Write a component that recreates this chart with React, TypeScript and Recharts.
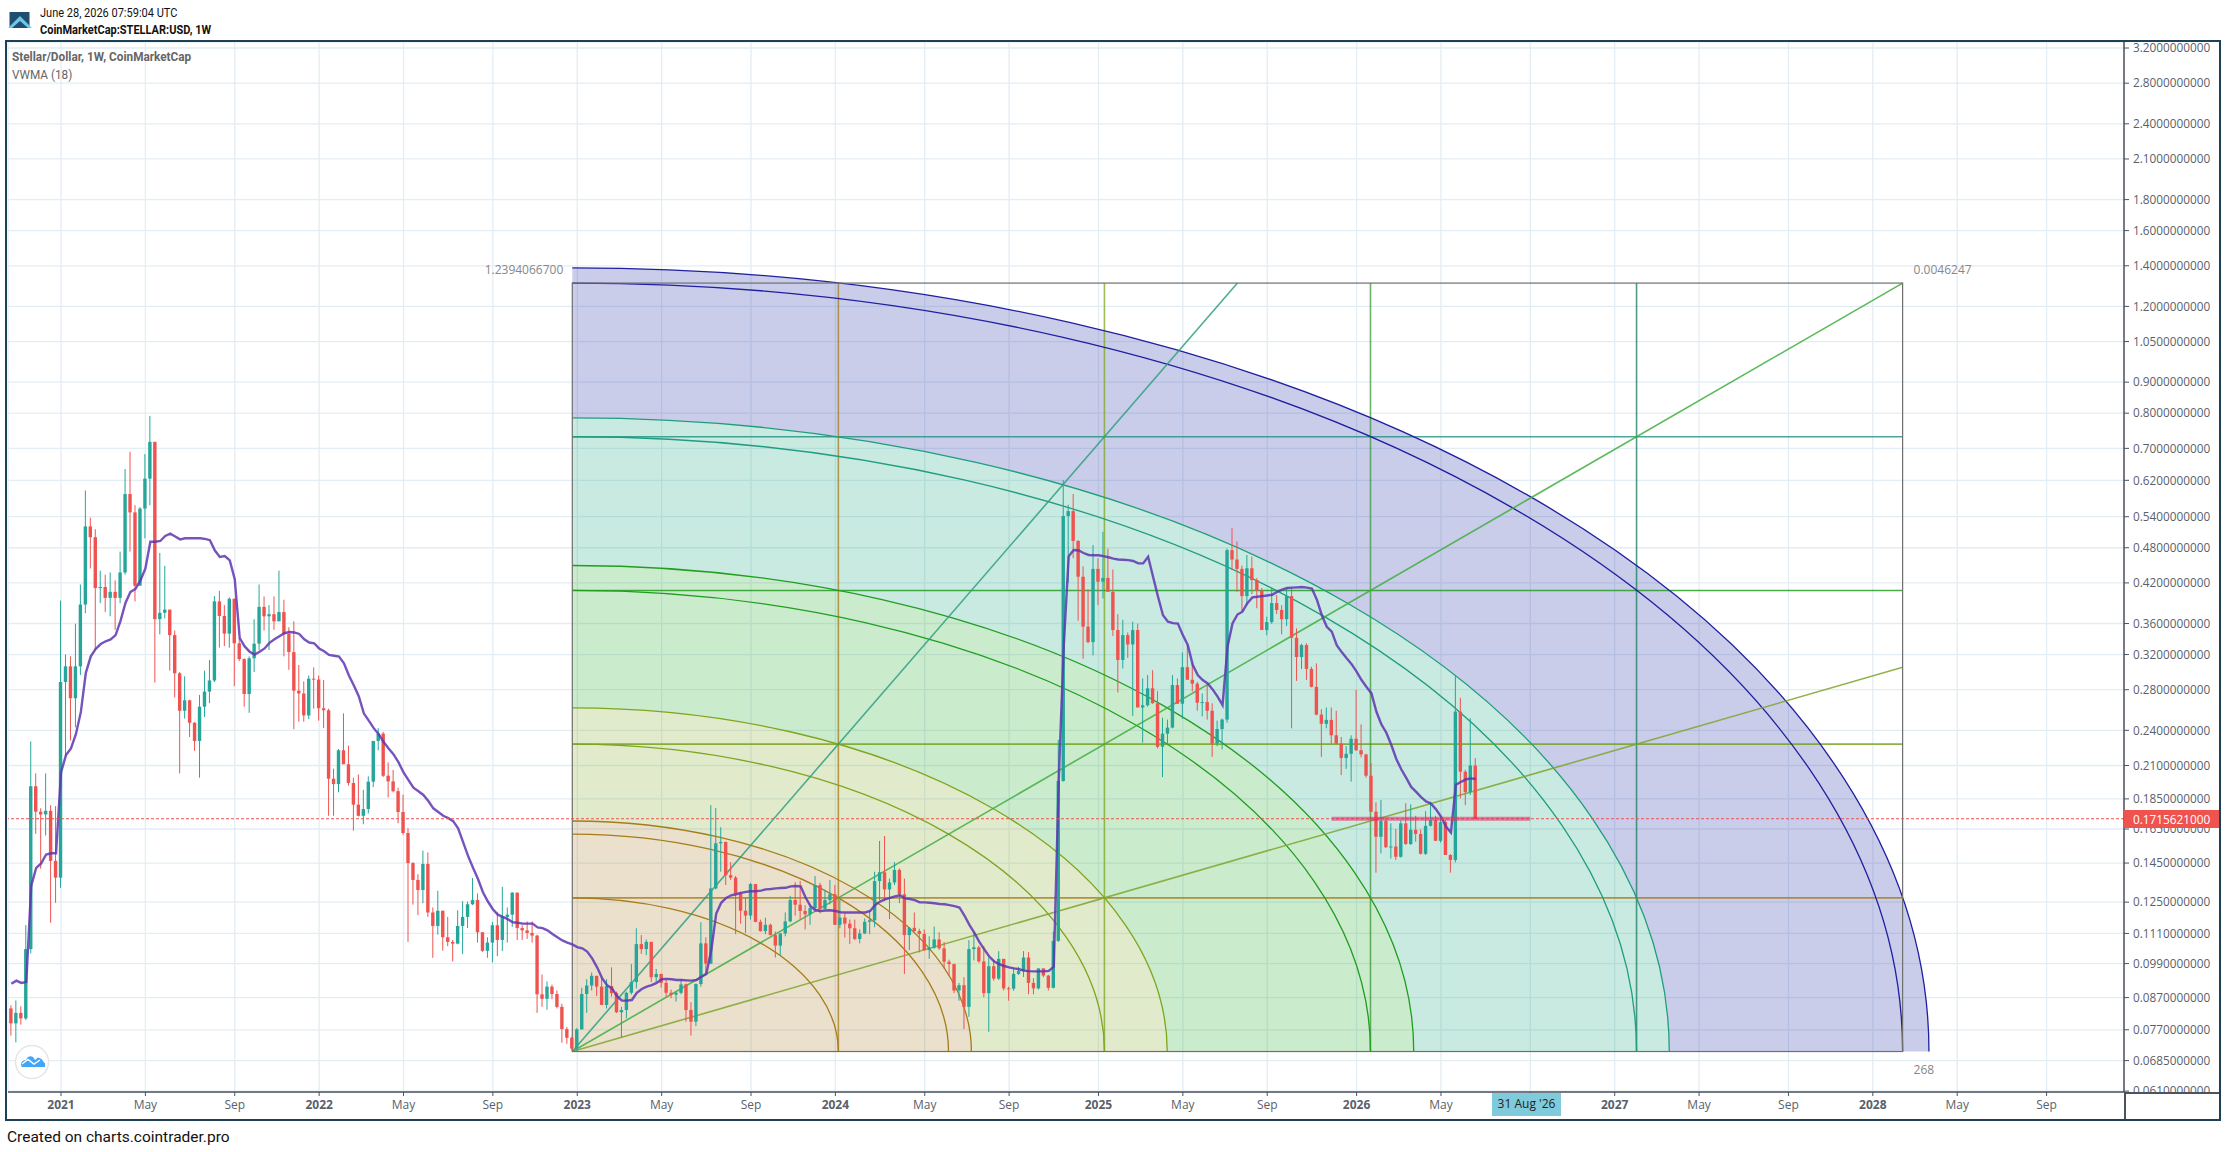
import React from 'react';
import { ComposedChart, Bar, Line, XAxis, YAxis, CartesianGrid, ReferenceArea, ReferenceLine } from 'recharts';

// Weekly bars, numbered from the first bar of 2021 (bar 0). The series starts at bar -10.
const firstBar = -10;
const firstOpen = 0.0835;

const highs = [
  .0845,.0861,.0842,.1146,.2301,.2038,.1785,.2038,.1806,.1800,
  .3928,.3201,.3178,.3598,.4175,.5966,.5380,.5150,.4400,.4333,
  .4370,.4240,.4730,.6470,.6910,.5640,.5600,.6850,.7920,.7175,
  .4705,.4480,.3795,.3505,.2995,.2945,.2695,.2475,.2745,.3010,
  .3135,.3995,.4075,.3860,.3975,.3960,.3405,.3155,.3178,.3660,
  .4175,.3990,.3860,.3990,.4400,.3940,.3550,.3630,.3075,.2890,
  .2955,.3048,.2955,.2905,.2605,.2075,.2235,.2560,.2265,.2005,
  .2030,.1915,.2015,.2305,.2420,.2385,.2125,.2065,.1930,.1880,
  .1655,.1455,.1390,.1520,.1510,.1225,.1305,.1210,.1182,.1083,
  .1212,.1255,.1253,.1370,.1292,.1115,.1094,.1160,.1202,.1325,
  .1225,.1298,.1296,.1145,.1162,.1162,.1105,.0950,.0925,.0914,
  .0894,.0850,.0778,.0750,.0775,
  .0903,.0933,.0957,.0945,.0937,.0933,.0976,.0890,.0840,.0890,
  .0988,.1132,.1103,.1085,.1075,.0970,.0952,.0930,.0897,.0890,
  .0930,.0918,.0855,.0918,.1158,.1094,.1807,.1787,.1661,.1573,
  .1455,.1381,.1300,.1270,.1345,.1339,.1170,.1178,.1152,.1118,
  .1112,.1202,.1280,.1349,.1355,.1236,.1233,.1381,.1345,.1310,
  .1360,.1334,.1260,.1198,.1170,.1170,.1127,.1175,.1210,.1403,
  .1577,.1607,.1367,.1455,.1421,.1367,.1137,.1202,.1130,.1127,
  .1098,.1139,.1115,.1075,.1005,.0990,.0920,.0940,.1082,.1118,
  .1060,.1057,.1013,.1002,.1038,.1008,.0907,.0972,.0978,.1038,
  .1034,.0937,.0972,.0972,.0948,.1118,.2314,.6207,.5650,.5885,
  .4940,.4473,.4096,.4850,.4610,.5100,.4785,.4420,.3730,.3650,
  .3480,.3625,.3600,.2923,.2960,.3015,.2785,.2518,.2500,.2960,
  .2923,.3225,.3317,.3100,.2885,.2760,.2855,.2660,.2490,.2510,
  .4785,.5170,.4915,.4485,.4670,.4640,.4280,.4120,.3695,.4120,
  .4010,.3860,.4120,.4120,.3535,.3335,.3340,.3055,.3094,.2600,
  .2617,.2617,.2585,.2340,.2260,.2355,.2798,.2455,.2195,.2120,
  .1826,.1843,.1717,.1686,.1650,.1706,.1820,.1813,.1735,.1648,
  .1766,.1832,.1735,.1730,.1706,.1500,.2962,.2715,.2066,.2512,.2160,
];

const lows = [
  .0753,.0734,.0785,.0799,.1029,.1620,.1419,.1610,.1156,.1247,
  .1320,.2173,.2310,.2427,.2961,.3743,.4437,.3262,.3890,.3760,
  .3700,.3515,.3890,.4333,.4730,.3915,.4160,.4975,.5640,.2877,
  .3455,.3670,.3010,.2720,.2038,.2510,.2340,.2220,.2005,.2525,
  .2660,.2883,.3285,.3305,.3285,.2840,.3120,.2625,.2565,.2995,
  .3255,.3505,.3255,.3515,.3630,.3178,.3020,.2410,.2480,.2480,
  .2505,.2605,.2490,.2420,.1735,.1735,.1897,.2110,.1945,.1640,
  .1730,.1680,.1750,.1935,.2225,.2010,.1860,.1897,.1686,.1615,
  .1075,.1238,.1190,.1245,.1182,.1012,.1105,.1040,.1058,.0998,
  .1065,.1027,.1133,.1236,.1072,.1035,.1012,.0994,.1018,.1038,
  .1072,.1138,.1083,.1083,.1087,.1072,.0821,.0840,.0831,.0865,
  .0835,.0733,.0730,.0712,.0709,
  .0772,.0821,.0894,.0875,.0846,.0835,.0873,.0821,.0748,.0804,
  .0880,.0901,.1027,.1022,.0923,.0923,.0904,.0873,.0868,.0857,
  .0881,.0794,.0753,.0781,.0907,.0952,.0988,.1312,.1403,.1334,
  .1360,.1107,.1152,.1112,.1170,.1158,.1118,.1107,.1102,.1013,
  .1022,.1098,.1158,.1188,.1172,.1127,.1147,.1215,.1198,.1215,
  .1240,.1147,.1132,.1093,.1066,.1082,.1069,.1107,.1107,.1137,
  .1260,.1255,.1172,.1334,.1245,.0952,.1042,.1118,.1033,.1039,
  .1008,.1047,.1042,.0972,.0945,.0885,.0860,.0772,.0809,.1002,
  .0993,.0871,.0764,.0928,.0930,.0894,.0860,.0893,.0948,.0941,
  .0881,.0881,.0897,.0940,.0894,.0901,.1075,.1975,.4203,.4613,
  .3640,.3150,.3340,.3190,.3860,.3960,.4060,.3435,.2770,.3035,
  .3160,.2535,.2625,.2290,.2625,.2655,.2240,.2010,.2268,.2418,
  .2655,.2508,.2905,.2780,.2585,.2530,.2500,.2170,.2260,.2232,
  .2470,.4410,.4060,.3765,.3860,.4025,.3815,.3512,.3445,.3595,
  .3730,.3455,.3565,.2418,.2895,.3030,.2905,.2825,.2540,.2170,
  .2418,.2282,.2276,.2025,.2073,.1975,.2220,.2165,.2005,.1762,
  .1398,.1504,.1535,.1475,.1467,.1480,.1553,.1553,.1572,.1498,
  .1495,.1665,.1577,.1567,.1495,.1398,.1454,.1854,.1807,.1877,.1716,
];

const closes = [
  .0789,.0821,.0804,.1046,.1941,.1762,.1744,.1768,.1462,.1372,
  .2883,.3060,.2711,.3060,.3869,.5205,.4995,.4120,.4135,.3968,
  .4060,.3968,.4370,.5885,.5490,.4155,.5570,.6240,.7175,.3660,
  .3750,.3795,.3445,.2980,.2585,.2690,.2470,.2305,.2625,.2780,
  .2900,.3915,.3705,.3465,.3955,.3340,.3145,.2755,.3155,.3335,
  .3835,.3700,.3730,.3630,.3760,.3460,.3230,.2790,.2760,.2540,
  .2920,.2910,.2610,.2590,.1997,.1957,.2225,.2110,.1965,.1810,
  .1735,.1780,.1975,.2305,.2370,.2020,.1977,.1905,.1760,.1625,
  .1450,.1360,.1309,.1445,.1202,.1142,.1210,.1094,.1075,.1068,
  .1142,.1182,.1240,.1260,.1115,.1039,.1072,.1145,.1083,.1182,
  .1192,.1296,.1133,.1123,.1112,.1101,.0881,.0866,.0907,.0882,
  .0840,.0772,.0747,.0717,.0771,
  .0882,.0911,.0945,.0907,.0846,.0909,.0885,.0823,.0830,.0886,
  .0923,.1066,.1046,.1075,.0940,.0952,.0920,.0886,.0880,.0886,
  .0915,.0830,.0794,.0916,.1069,.0990,.1317,.1563,.1571,.1385,
  .1372,.1292,.1210,.1188,.1339,.1160,.1120,.1147,.1103,.1060,
  .1110,.1162,.1260,.1238,.1209,.1194,.1222,.1334,.1219,.1260,
  .1288,.1147,.1179,.1152,.1132,.1087,.1110,.1160,.1167,.1354,
  .1400,.1312,.1347,.1413,.1288,.1103,.1134,.1120,.1108,.1042,
  .1052,.1085,.1049,.0997,.0988,.0894,.0912,.0840,.1046,.1053,
  .0998,.0885,.0980,.0935,.1008,.0901,.0900,.0952,.0962,.1013,
  .0920,.0901,.0972,.0946,.0903,.1079,.1980,.5414,.5516,.4925,
  .4300,.3557,.3355,.4430,.4220,.4280,.4060,.3512,.3135,.3445,
  .3325,.3512,.2617,.2640,.2815,.2660,.2255,.2370,.2425,.2850,
  .2655,.3050,.2908,.2865,.2665,.2672,.2585,.2282,.2412,.2500,
  .4757,.4590,.4430,.3995,.4440,.4246,.4080,.3512,.3620,.3890,
  .3790,.3660,.3995,.3410,.3170,.3317,.3030,.2830,.2548,.2460,
  .2497,.2355,.2282,.2160,.2195,.2325,.2225,.2190,.2020,.1762,
  .1602,.1701,.1540,.1544,.1485,.1686,.1559,.1645,.1620,.1502,
  .1670,.1706,.1578,.1694,.1495,.1467,.2577,.2051,.1898,.2100,.1716,
];

const vwma18 = [
  .0917,.0928,.0920,.0923,.1331,.1424,.1448,.1498,.1505,.1505,
  .2045,.2185,.2240,.2365,.2574,.2985,.3178,.3270,.3330,.3365,
  .3390,.3445,.3640,.3895,.4060,.4105,.4240,.4437,.4910,.4910,
  .4925,.5020,.5063,.5010,.4955,.4975,.4975,.4975,.4975,.4965,
  .4940,.4750,.4635,.4652,.4575,.4260,.3405,.3300,.3235,.3200,
  .3235,.3275,.3345,.3390,.3430,.3470,.3485,.3480,.3460,.3390,
  .3350,.3340,.3275,.3240,.3195,.3185,.3175,.3095,.2955,.2845,
  .2730,.2560,.2490,.2420,.2365,.2295,.2240,.2190,.2125,.2045,
  .1987,.1930,.1905,.1878,.1835,.1785,.1760,.1735,.1720,.1700,
  .1655,.1570,.1490,.1424,.1365,.1298,.1253,.1217,.1192,.1182,
  .1172,.1158,.1156,.1152,.1152,.1152,.1136,.1133,.1123,.1108,
  .1094,.1081,.1072,.1065,.1054,
  .1049,.1036,.1010,.0976,.0937,.0912,.0901,.0875,.0860,.0860,
  .0862,.0886,.0899,.0907,.0912,.0920,.0933,.0934,.0933,.0930,
  .0930,.0929,.0928,.0930,.0942,.0952,.1042,.1197,.1247,.1270,
  .1283,.1288,.1295,.1300,.1303,.1303,.1306,.1312,.1314,.1317,
  .1319,.1320,.1327,.1329,.1327,.1272,.1231,.1212,.1209,.1211,
  .1212,.1209,.1203,.1202,.1202,.1202,.1202,.1202,.1209,.1236,
  .1253,.1263,.1270,.1278,.1283,.1268,.1265,.1260,.1249,.1249,
  .1247,.1245,.1241,.1240,.1236,.1231,.1225,.1188,.1147,.1112,
  .1075,.1045,.1017,.0998,.0988,.0981,.0976,.0972,.0969,.0964,
  .0962,.0961,.0961,.0961,.0963,.0978,.1987,.3297,.4645,.4760,
  .4750,.4705,.4670,.4665,.4665,.4650,.4630,.4605,.4590,.4585,
  .4580,.4565,.4523,.4523,.4640,.4300,.3985,.3715,.3625,.3605,
  .3600,.3445,.3317,.3075,.2960,.2905,.2868,.2803,.2727,.2640,
  .3297,.3600,.3725,.3765,.3890,.3975,.3985,.3995,.4005,.4015,
  .4060,.4095,.4120,.4125,.4130,.4135,.4125,.4110,.3940,.3715,
  .3555,.3490,.3317,.3230,.3155,.3085,.3000,.2905,.2830,.2761,
  .2575,.2454,.2378,.2270,.2153,.2070,.2003,.1936,.1900,.1862,
  .1832,.1817,.1778,.1730,.1665,.1628,.1952,.1972,.1992,.2000,.1995,
];

const priceTicks = [3.2,2.8,2.4,2.1,1.8,1.6,1.4,1.2,1.05,.9,.8,.7,.62,.54,.48,.42,.36,.32,.28,.24,.21,.185,.165,.145,.125,.111,.099,.087,.077,.0685,.061];
const timeTicks = [0,17,35,52,69,87,104,121,139,156,174,191,209,226,243,261,278,296,313,330,348,365,382,400];
const timeLabels = ['2021','May','Sep','2022','May','Sep','2023','May','Sep','2024','May','Sep','2025','May','Sep','2026','May','Sep','2027','May','Sep','2028','May','Sep'];

const lastPrice = 0.1715621;
const priceDomain = [0.0608, 3.274];
const barDomain = [-10.68, 415.6];

// Gann square
const gannStartBar = 103.0;
const gannBars = 268;
const gannLow = 0.0709;
const gannHigh = 1.311;
const gannDivisions = [0.2, 0.4, 0.6, 0.8];
const gannHorizontalColors = ['#a67c1a', '#6f9f10', '#1a9a1a', '#1f8e7e'];
const gannVerticalColors = ['#a67c1a', '#7ea51e', '#3a9a3a', '#1a7a60'];
const gannArcs = [0.2, 0.2828, 0.3, 0.4, 0.4472, 0.6, 0.6325, 0.8, 0.8246, 1, 1.0198];
const gannArcColors = ['#a67c1a', '#a67c1a', '#a67c1a', '#7ea51e', '#7ea51e', '#1f9e1f', '#1f9e1f', '#1f9e7e', '#1f9e7e', '#1f1fa0', '#1f1fa0'];
const gannZones = [0, 0.3, 0.4472, 0.6325, 0.8246, 1.0198];
const gannZoneColors = ['rgb(171,131,51)', 'rgb(135,175,51)', 'rgb(47,175,55)', 'rgb(39,171,131)', 'rgb(43,55,171)'];
const gannFans = [[0.5, 1], [1, 1], [1, 0.5]];
const gannFanColors = ['#2f9f80', '#3fae3f', '#7ea52e'];

const rows = closes.map((close, i) => ({
  t: firstBar + i,
  open: i === 0 ? firstOpen : closes[i - 1],
  close,
  high: highs[i],
  low: lows[i],
  range: [lows[i], highs[i]],
  vwma: vwma18[i],
}));

const UP = '#26a69a';
const DOWN = '#ef5350';
const AXIS = '#4c525e';
const TICK_FONT = '"Open Sans", sans-serif';

function Candle(props: any) {
  const { x, y, width, height, payload } = props;
  if (!payload) return null;
  const top = Math.min(y, y + height);
  const h = Math.abs(height);
  const { open, close, high, low } = payload;
  const span = Math.log(high / low) || 1;
  const at = (p: number) => top + (h * Math.log(high / p)) / span;
  const cx = x + width / 2;
  const color = close >= open ? UP : DOWN;
  const a = at(Math.max(open, close));
  const b = at(Math.min(open, close));
  return (
    <g>
      <line x1={cx} x2={cx} y1={top} y2={top + h} stroke={color} strokeWidth={1} />
      <rect x={cx - 1.7} y={a} width={3.4} height={Math.max(b - a, 1)} fill={color} />
    </g>
  );
}

function GannSquare(props: any) {
  const { x, y, width, height } = props;
  const left = x;
  const top = Math.min(y, y + height);
  const W = width;
  const H = Math.abs(height);
  const bottom = top + H;
  const right = left + W;
  return (
    <g>
      {gannZoneColors.map((c, i) => {
        const a = gannZones[i];
        const b = gannZones[i + 1];
        const d = `M${left + a * W},${bottom} A${a * W},${a * H} 0 0 0 ${left},${bottom - a * H} L${left},${bottom - b * H} A${b * W},${b * H} 0 0 1 ${left + b * W},${bottom} Z`;
        return <path key={i} d={d} fill={c} fillOpacity={0.25} stroke="none" />;
      })}
      {gannDivisions.map((k, i) => (
        <g key={k}>
          <line x1={left} x2={right} y1={bottom - k * H} y2={bottom - k * H} stroke={gannHorizontalColors[i]} strokeWidth={1.6} strokeOpacity={0.8} />
          <line x1={left + k * W} x2={left + k * W} y1={top} y2={bottom} stroke={gannVerticalColors[i]} strokeWidth={1.6} strokeOpacity={0.75} />
        </g>
      ))}
      {gannArcs.map((r, i) => (
        <path
          key={r}
          d={`M${left},${bottom - r * H} A${r * W},${r * H} 0 0 1 ${left + r * W},${bottom}`}
          stroke={gannArcColors[i]}
          strokeWidth={1.3}
          fill="none"
        />
      ))}
      {gannFans.map(([fx, fy], i) => (
        <line key={i} x1={left} y1={bottom} x2={left + fx * W} y2={bottom - fy * H} stroke={gannFanColors[i]} strokeWidth={1.6} strokeOpacity={0.85} />
      ))}
      <rect x={left} y={top} width={W} height={H} fill="none" stroke="#6f6f6f" strokeWidth={1.2} />
      <text x={left - 9} y={top - 9} textAnchor="end" fontFamily={TICK_FONT} fontSize={12} fill="#87878a">1.2394066700</text>
      <text x={right + 11} y={top - 9} fontFamily={TICK_FONT} fontSize={12} fill="#87878a">0.0046247</text>
      <text x={right + 11} y={bottom + 22} fontFamily={TICK_FONT} fontSize={12} fill="#87878a">268</text>
    </g>
  );
}

function TimeTick(props: any) {
  const { x, y, payload } = props;
  const label = timeLabels[timeTicks.indexOf(payload.value)];
  const isYear = /^\d{4}$/.test(label);
  return (
    <text x={x} y={y + 11} textAnchor="middle" fontFamily={TICK_FONT} fontSize={12} fontWeight={isYear ? 700 : 400} fill="#5a5f6b">
      {label}
    </text>
  );
}

const abs = (left: number, top: number, extra: React.CSSProperties = {}): React.CSSProperties => ({
  position: 'absolute',
  left,
  top,
  whiteSpace: 'nowrap',
  ...extra,
});

const narrow: React.CSSProperties = { fontFamily: 'Roboto, sans-serif', transform: 'scaleX(0.88)', transformOrigin: 'left center' };

export default function App() {
  return (
    <div style={{ position: 'absolute', left: 0, top: 0, width: 2226, height: 1152, background: '#fff', overflow: 'hidden' }}>
      <ComposedChart
        width={2226}
        height={1152}
        data={rows}
        margin={{ left: 8, top: 42, right: 6, bottom: 32 }}
        style={{ position: 'absolute', left: 0, top: 0 }}
      >
        <CartesianGrid stroke="#e3edf4" strokeWidth={1.3} />
        <XAxis
          dataKey="t"
          type="number"
          domain={barDomain}
          allowDataOverflow
          ticks={timeTicks}
          interval={0}
          height={28}
          tick={<TimeTick />}
          tickSize={4}
          stroke={AXIS}
          axisLine={{ stroke: AXIS, strokeWidth: 1.5 }}
          tickLine={{ stroke: AXIS }}
        />
        <YAxis
          orientation="right"
          scale="log"
          domain={priceDomain}
          allowDataOverflow
          ticks={priceTicks}
          interval={0}
          width={96}
          tickSize={5}
          tickMargin={4}
          tickFormatter={(v: number) => v.toFixed(10)}
          tick={{ fontFamily: TICK_FONT, fontSize: 11.8, fill: '#5a5f6b', textAnchor: 'start' }}
          axisLine={{ stroke: AXIS, strokeWidth: 1.5 }}
          tickLine={{ stroke: AXIS }}
        />
        <ReferenceArea
          x1={gannStartBar}
          x2={gannStartBar + gannBars}
          y1={gannLow}
          y2={gannHigh}
          ifOverflow="visible"
          shape={<GannSquare />}
        />
        <Bar dataKey="range" barSize={4} shape={<Candle />} isAnimationActive={false} />
        <Line dataKey="vwma" type="linear" stroke="#5e35b1" strokeOpacity={0.85} strokeWidth={2.4} dot={false} activeDot={false} isAnimationActive={false} />
        <ReferenceLine y={lastPrice} stroke="#ef5350" strokeWidth={1} strokeDasharray="3 2" />
        <ReferenceLine
          segment={[{ x: 256, y: lastPrice }, { x: 296, y: lastPrice }]}
          stroke="#e91e63"
          strokeOpacity={0.55}
          strokeWidth={4}
        />
      </ComposedChart>

      {/* frame and time-axis band */}
      <div style={abs(2125, 1093, { width: 94, height: 26, background: '#fff' })} />
      <div style={abs(2124, 1092, { width: 96, height: 1.5, background: AXIS })} />
      <div style={abs(2124, 1092, { width: 1.5, height: 28, background: AXIS })} />
      <div style={abs(5, 40, { width: 2216, height: 1081, boxSizing: 'border-box', border: '2px solid #1f4155' })} />

      {/* last price tag */}
      <div style={abs(2124, 810, { width: 95, height: 18, background: '#ef5350', color: '#fff', fontFamily: TICK_FONT, fontSize: 11.8, lineHeight: '18px', paddingLeft: 9, boxSizing: 'border-box' })}>0.1715621000</div>

      {/* crosshair date tag */}
      <div style={abs(1492, 1093, { width: 69, height: 23, background: '#7fcbdc', color: '#222', fontFamily: TICK_FONT, fontSize: 12, lineHeight: '22px', textAlign: 'center' })}>31 Aug '26</div>

      {/* header */}
      <svg style={abs(8, 10)} width={26} height={20} viewBox="0 0 26 20">
        <rect x={1.5} y={2} width={20} height={16} fill="#1f4e6e" />
        <path d="M0 18 L12 6 L24 18 L20 18 L12 11 L4 18 Z" fill="#6cc7ea" />
      </svg>
      <div style={abs(40, 5, { ...narrow, fontSize: 12.5, color: '#111' })}>June 28, 2026 07:59:04 UTC</div>
      <div style={abs(40, 22, { ...narrow, fontSize: 12.5, fontWeight: 700, color: '#111' })}>CoinMarketCap:STELLAR:USD, 1W</div>
      <div style={abs(12, 49, { ...narrow, fontSize: 13.4, fontWeight: 700, color: '#666' })}>Stellar/Dollar, 1W, CoinMarketCap</div>
      <div style={abs(12, 67, { ...narrow, fontSize: 13.4, color: '#666' })}>VWMA (18)</div>
      <div style={abs(7, 1128, { fontFamily: 'Roboto, sans-serif', fontSize: 15.5, color: '#111' })}>Created on charts.cointrader.pro</div>

      {/* watermark */}
      <svg style={abs(14, 1044)} width={38} height={36} viewBox="0 0 38 36">
        <circle cx={18} cy={18} r={16.5} fill="#fff" stroke="#e6e6e6" strokeWidth={1.5} />
        <path d="M7 21 C7 17 10 16 12 16 C13 13 16 11 19 13 L21 16 L24 13.5 C27 14 29 16 29.5 18 C31 18.5 31.5 20 31 23 L8 23 Z" fill="#42a5f5" />
        <path d="M8 20 L14 15.5 L20 20 L26 16" stroke="#fff" strokeWidth={1.5} fill="none" />
      </svg>
    </div>
  );
}
